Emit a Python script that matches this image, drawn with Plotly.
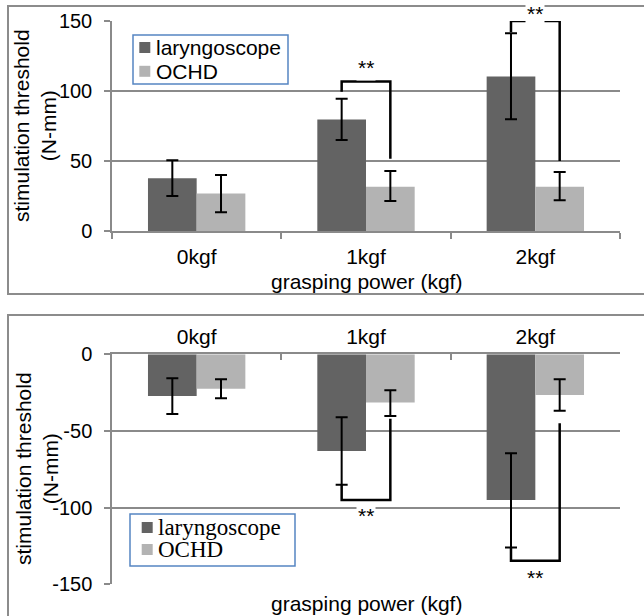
import plotly.graph_objects as go

# ---------------- data ----------------
categories = ["0kgf", "1kgf", "2kgf"]
series_names = ["laryngoscope", "OCHD"]

# upper panel (positive thresholds): mean, error-bar top, error-bar bottom
top_lar_mean = [37.6, 79.6, 110.3]
top_lar_hi = [50.5, 94.4, 141.2]
top_lar_lo = [25.0, 65.0, 79.8]
top_ochd_mean = [26.7, 31.6, 31.6]
top_ochd_hi = [40.0, 42.9, 42.1]
top_ochd_lo = [13.4, 21.4, 21.9]

# lower panel (negative thresholds)
bot_lar_mean = [-27.2, -63.0, -95.0]
bot_lar_hi = [-15.7, -41.0, -64.6]
bot_lar_lo = [-39.0, -85.0, -126.0]
bot_ochd_mean = [-22.4, -31.5, -26.5]
bot_ochd_hi = [-16.3, -23.5, -16.3]
bot_ochd_lo = [-28.7, -40.2, -36.8]

# significance brackets: (category index, left end, bracket level, right end, star position)
top_brackets = [(1, 99.5, 106.7, 51.6, 116.6), (2, 142.0, 150.0, 50.0, 155.5)]
bot_brackets = [(1, -85.0, -95.0, -42.0, -105.0), (2, -126.0, -134.6, -45.0, -145.8)]
star_label = "**"

top_range = [0, 150]
bot_range = [-150, 0]
top_tick_vals = [0, 50, 100, 150]
top_tick_text = ["0", "50", "100", "150"]
bot_tick_vals = [-150, -100, -50, 0]
bot_tick_text = ["-150", "-100", "-50", "0"]

x_title = "grasping power (kgf)"
y_title = "stimulation threshold<br>(N-mm)"

# ---------------- style ----------------
W, H = 644, 616
SANS = "Arial, Liberation Sans, sans-serif"
SERIF = "Liberation Serif, Times New Roman, DejaVu Serif, serif"
DARK = "#636363"
LIGHT = "#b3b3b3"
GRID = "#8a8a8a"
BORDER = "#8c8c8c"
LEGEND_BORDER = "#5585c2"
BARGAP = 0.425
series_colors = [DARK, LIGHT]


def px(x):
    return x / W


def py(y):
    return 1 - y / H


top_dom_y = [py(231), py(21)]
bot_dom_y = [py(584.3), py(354.3)]
x_dom = [px(112), px(620)]


def to_paper(v, rng, dom):
    return dom[0] + (v - rng[0]) / (rng[1] - rng[0]) * (dom[1] - dom[0])


def err(mean, hi, lo):
    return dict(type="data", symmetric=False,
                array=[h - m for m, h in zip(mean, hi)],
                arrayminus=[m - l for m, l in zip(mean, lo)],
                color="black", thickness=2, width=6)


fig = go.Figure()

panels = [
    ("x", "y", top_lar_mean, top_lar_hi, top_lar_lo,
     top_ochd_mean, top_ochd_hi, top_ochd_lo),
    ("x2", "y2", bot_lar_mean, bot_lar_hi, bot_lar_lo,
     bot_ochd_mean, bot_ochd_hi, bot_ochd_lo),
]
for xa, ya, lm, lh, ll, om, oh, ol in panels:
    fig.add_trace(go.Bar(x=categories, y=lm, name=series_names[0],
                         marker=dict(color=DARK, line=dict(width=0)),
                         error_y=err(lm, lh, ll), xaxis=xa, yaxis=ya,
                         showlegend=False))
    fig.add_trace(go.Bar(x=categories, y=om, name=series_names[1],
                         marker=dict(color=LIGHT, line=dict(width=0)),
                         error_y=err(om, oh, ol), xaxis=xa, yaxis=ya,
                         showlegend=False))

off = (1 - BARGAP) / 4
shapes = []
annotations = []
for brackets, xr, yr, rng, dom in [
    (top_brackets, "x", "y", top_range, top_dom_y),
    (bot_brackets, "x2", "y2", bot_range, bot_dom_y),
]:
    for ci, left_end, level, right_end, star_y in brackets:
        xl, xrr = ci - off, ci + off
        shapes.append(dict(
            type="path", xref=xr, yref=yr,
            path=f"M {xl},{left_end} L {xl},{level} L {xrr},{level} L {xrr},{right_end}",
            line=dict(color="black", width=2.5), layer="above"))
        annotations.append(dict(
            text=star_label, xref=xr, yref="paper", x=ci,
            y=to_paper(star_y, rng, dom), showarrow=False,
            font=dict(family=SANS, size=21, color="black"),
            bgcolor="white", borderpad=1, xanchor="center", yanchor="middle"))

# outer frames
shapes.append(dict(type="rect", xref="paper", yref="paper",
                   x0=px(8), x1=px(652), y0=py(294), y1=py(6),
                   line=dict(color=BORDER, width=2), layer="below"))
shapes.append(dict(type="rect", xref="paper", yref="paper",
                   x0=px(8), x1=px(652), y0=py(625), y1=py(315),
                   line=dict(color=BORDER, width=2), layer="below"))

# legends (boxed key with square swatches)
legend_specs = [
    dict(box=(133, 35, 288, 84), rows=[47.5, 71.3], sq=(139.3, 11),
         text_x=154, family=SANS, size=21),
    dict(box=(130, 514, 295, 566), rows=[527.5, 549.5], sq=(141.7, 11),
         text_x=155.5, family=SERIF, size=23),
]
for spec in legend_specs:
    x0, y0, x1, y1 = spec["box"]
    shapes.append(dict(type="rect", xref="paper", yref="paper",
                       x0=px(x0), x1=px(x1), y0=py(y1), y1=py(y0),
                       fillcolor="white",
                       line=dict(color=LEGEND_BORDER, width=1.5), layer="above"))
    sx, ss = spec["sq"]
    for name, col, ry in zip(series_names, series_colors, spec["rows"]):
        shapes.append(dict(type="rect", xref="paper", yref="paper",
                           x0=px(sx), x1=px(sx + ss),
                           y0=py(ry + ss / 2), y1=py(ry - ss / 2),
                           fillcolor=col, line=dict(width=0), layer="above"))
        annotations.append(dict(text=name, xref="paper", yref="paper",
                                x=px(spec["text_x"]), y=py(ry), showarrow=False,
                                xanchor="left", yanchor="middle",
                                font=dict(family=spec["family"], size=spec["size"],
                                          color="black")))

# axis titles
for ty in [281, 603]:
    annotations.append(dict(text=x_title, xref="paper", yref="paper",
                            x=px(366), y=py(ty), showarrow=False,
                            font=dict(family=SANS, size=21, color="black"),
                            xanchor="center", yanchor="middle"))
for cx, cy in [(35, 126), (37, 469)]:
    annotations.append(dict(text=y_title, xref="paper", yref="paper",
                            x=px(cx), y=py(cy), showarrow=False, textangle=-90,
                            font=dict(family=SANS, size=21, color="black"),
                            xanchor="center", yanchor="middle"))

common_x = dict(type="category", domain=x_dom, tickson="boundaries",
                ticklen=6, tickcolor=GRID, tickwidth=1.5, showline=True,
                linecolor=GRID, linewidth=1.5, showgrid=False, automargin=False,
                tickfont=dict(family=SANS, size=21, color="black"))
common_y = dict(showgrid=True, gridcolor=GRID,
                gridwidth=1.5, showline=True, linecolor=GRID, linewidth=1.5,
                ticks="outside", ticklen=6, tickcolor=GRID, tickwidth=1.5,
                zeroline=False, automargin=False, tickmode="array",
                tickfont=dict(family=SANS, size=20, color="black"),
                ticklabelstandoff=8)

fig.update_layout(
    width=W, height=H, autosize=False,
    margin=dict(l=0, r=0, t=0, b=0, autoexpand=False),
    paper_bgcolor="white", plot_bgcolor="white",
    barmode="group", bargap=BARGAP, bargroupgap=0,
    xaxis=dict(common_x, anchor="y", ticks="outside", side="bottom",
               ticklabelstandoff=6),
    yaxis=dict(common_y, anchor="x", domain=top_dom_y, range=top_range,
               tickvals=top_tick_vals, ticktext=top_tick_text),
    xaxis2=dict(common_x, anchor="y2", ticks="inside", side="top",
                ticklabelstandoff=0),
    yaxis2=dict(common_y, anchor="x2", domain=bot_dom_y, range=bot_range,
                tickvals=bot_tick_vals, ticktext=bot_tick_text),
    shapes=shapes,
    annotations=annotations,
    showlegend=False,
)

# place the figure flush with the page corner (no default body margin)
fig.write_html("out.html",
               config={"displayModeBar": False},
               post_script="document.body.style.margin='0';")
